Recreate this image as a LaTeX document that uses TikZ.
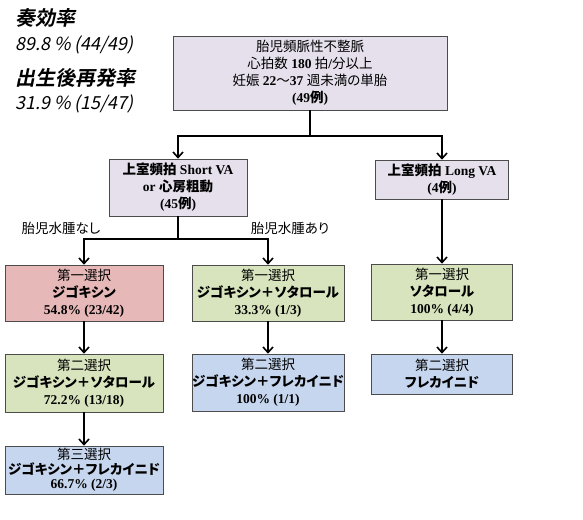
\documentclass[tikz,border=0pt]{standalone}
\usepackage{fontspec}
\setmainfont{Liberation Serif}
\newfontfamily\jpfont[RawFeature=+palt]{Noto Sans CJK JP}
\newfontfamily\jpbfont[RawFeature=+palt]{Noto Sans CJK JP Bold}
\newfontfamily\jpslant[FakeSlant=0.2]{Noto Sans CJK JP}
\newfontfamily\jpbslant[FakeSlant=0.2]{Noto Sans CJK JP Bold}
\usetikzlibrary{arrows.meta}

\definecolor{lav}{RGB}{229,224,236}
\definecolor{rose}{RGB}{230,185,184}
\definecolor{leaf}{RGB}{215,228,189}
\definecolor{sky}{RGB}{198,214,238}

\newcommand\jn[1]{{\jpfont\mdseries #1}}
\newcommand\jb[1]{{\jpbfont #1}}

\tikzset{
  box/.style={draw=black!70, line width=0.6pt, align=center, inner sep=0pt,
    font=\fontsize{13.5}{17}\selectfont\bfseries},
  link/.style={line width=1.6pt},
  flow/.style={link, -{Straight Barb[length=5.5pt,width=10pt]}},
  ratehead/.style={anchor=west, inner sep=0pt, font=\jpbslant\fontsize{20}{20}\selectfont},
  rate/.style={anchor=west, inner sep=0pt, font=\jpslant\fontsize{18}{18}\selectfont}
}

\begin{document}
\begin{tikzpicture}[x=1pt,y=-1pt]

  \fill[white] (0,0) rectangle (583,519);
  \useasboundingbox (0,0) rectangle (583,519);

  % rates
  \node[ratehead] (kouka) at (15,18) {奏効率};
  \node[rate] (koukav) at (15,45) {89.8 \% (44/49)};
  \node[ratehead] (saihatsu) at (15,78) {出生後再発率};
  \node[rate] (saihatsuv) at (15,104) {31.9 \% (15/47)};

  % boxes
  \node[box, fill=lav, minimum width=274, minimum height=74] (fetal) at (310,73)
    {\jn{胎児頻脈性不整脈}\\\jn{心拍数} 180 \jn{拍}/\jn{分以上}\\\jn{妊娠} 22\jn{〜}37 \jn{週未満の単胎}\\(49\jb{例})};
  \node[box, fill=lav, minimum width=138, minimum height=57] (svtshort) at (178,187.5)
    {\jb{上室頻拍} Short VA\\or \jb{心房粗動}\\(45\jb{例})};
  \node[box, fill=lav, minimum width=133, minimum height=39] (svtlong) at (442,179.5)
    {\jb{上室頻拍} Long VA\\(4\jb{例})};

  \node[box, fill=rose, minimum width=158, minimum height=56] (firstA) at (84,293)
    {\jn{第一選択}\\\jb{ジゴキシン}\\54.8\% (23/42)};
  \node[box, fill=leaf, minimum width=152, minimum height=56] (firstB) at (268,293)
    {\jn{第一選択}\\\jb{ジゴキシン＋ソタロール}\\33.3\% (1/3)};
  \node[box, fill=leaf, minimum width=141, minimum height=56] (firstC) at (442,292)
    {\jn{第一選択}\\\jb{ソタロール}\\100\% (4/4)};

  \node[box, fill=leaf, minimum width=158, minimum height=58] (secondA) at (84,383)
    {\jn{第二選択}\\\jb{ジゴキシン＋ソタロール}\\72.2\% (13/18)};
  \node[box, fill=sky, minimum width=152, minimum height=57] (secondB) at (268,382.5)
    {\jn{第二選択}\\\jb{ジゴキシン＋フレカイニド}\\100\% (1/1)};
  \node[box, fill=sky, minimum width=141, minimum height=40] (secondC) at (442,374)
    {\jn{第二選択}\\\jb{フレカイニド}};

  \node[box, fill=sky, minimum width=158, minimum height=48,
    font=\fontsize{13.5}{14.5}\selectfont\bfseries] (thirdA) at (84,470)
    {\jn{第三選択}\\\jb{ジゴキシン＋フレカイニド}\\66.7\% (2/3)};

  % branch labels
  \node[font=\jpfont\fontsize{13.5}{15}\selectfont] (nohydrops) at (61,228) {胎児水腫なし};
  \node[font=\jpfont\fontsize{13.5}{15}\selectfont] (hydrops) at (290,228) {胎児水腫あり};

  % connectors
  \coordinate (split1) at (310,136);
  \coordinate (split2) at (178,239);
  \draw[link] (fetal) -- (split1);
  \draw[flow] (split1) -| (svtshort);
  \draw[flow] (split1) -| (svtlong);
  \draw[link] (svtshort) -- (split2);
  \draw[flow] (split2) -| (firstA);
  \draw[flow] (split2) -| (firstB);
  \draw[flow] (svtlong) -- (firstC);
  \draw[flow] (firstA) -- (secondA);
  \draw[flow] (firstB) -- (secondB);
  \draw[flow] (firstC) -- (secondC);
  \draw[flow] (secondA) -- (thirdA);

\end{tikzpicture}
\end{document}
